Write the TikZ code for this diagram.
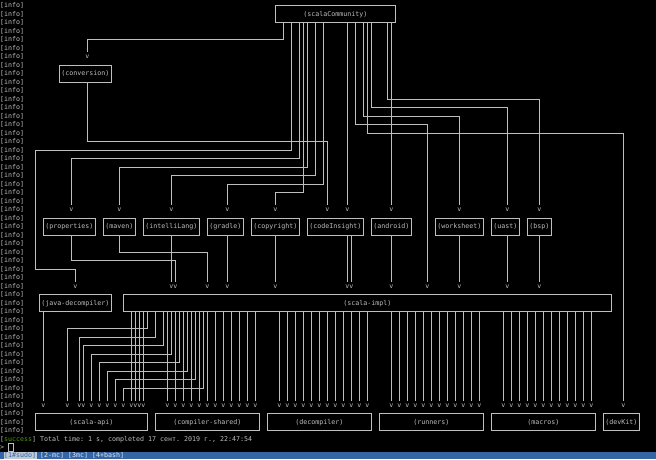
\documentclass[tikz,border=0pt]{standalone}
\usepackage{fontspec}
\setmonofont{DejaVu Sans Mono}
\definecolor{fg}{RGB}{190,190,190}
\definecolor{bar}{RGB}{52,101,164}
\definecolor{tab}{RGB}{190,200,215}
\definecolor{ok}{RGB}{78,154,6}
\tikzset{
  term/.style={font=\ttfamily\fontsize{6.64}{8.5}\selectfont\frenchspacing, text=fg, inner sep=0pt},
  box/.style={term, draw=fg, line width=0.9pt, minimum height=17pt},
  arr/.style={term, minimum height=8.5pt},
  wire/.style={draw=fg, line width=0.9pt},
}
\begin{document}
\begin{tikzpicture}[x=1pt,y=-1pt]
  \fill[black] (0,0) rectangle (656,459);
  \useasboundingbox (0,0) rectangle (656,459);
  % log column
  \foreach \k in {0,...,50}
    \node[term, anchor=west] at (0,5.7+8.5*\k) {[info]};

  % modules
  \node[box, minimum width=120pt] (sc)   at (335.3,14.2)  {(scalaCommunity)};
  \node[box, minimum width=52pt]  (conv) at (85.3,73.7)   {(conversion)};

  \node[box, minimum width=52pt]  (prop) at (69.3,226.7)  {(properties)};
  \node[box, minimum width=32pt]  (mvn)  at (119.3,226.7) {(maven)};
  \node[box, minimum width=56pt]  (intl) at (171.3,226.7) {(intelliLang)};
  \node[box, minimum width=36pt]  (grd)  at (225.3,226.7) {(gradle)};
  \node[box, minimum width=48pt]  (copy) at (275.3,226.7) {(copyright)};
  \node[box, minimum width=56pt]  (ci)   at (335.3,226.7) {(codeInsight)};
  \node[box, minimum width=40pt]  (andr) at (391.3,226.7) {(android)};
  \node[box, minimum width=48pt]  (ws)   at (459.3,226.7) {(worksheet)};
  \node[box, minimum width=28pt]  (uast) at (505.3,226.7) {(uast)};
  \node[box, minimum width=24pt]  (bsp)  at (539.3,226.7) {(bsp)};

  \node[box, minimum width=72pt]  (jd)   at (75.3,303.2)  {(java-decompiler)};
  \node[box, minimum width=488pt] (impl) at (367.3,303.2) {(scala-impl)};

  \node[box, minimum width=112pt] (api)  at (91.3,422.2)  {(scala-api)};
  \node[box, minimum width=104pt] (cs)   at (207.3,422.2) {(compiler-shared)};
  \node[box, minimum width=104pt] (dec)  at (319.3,422.2) {(decompiler)};
  \node[box, minimum width=104pt] (run)  at (431.3,422.2) {(runners)};
  \node[box, minimum width=104pt] (mac)  at (543.3,422.2) {(macros)};
  \node[box, minimum width=36pt]  (dk)   at (621.3,422.2) {(devKit)};

  % arrow marks
  \node[arr] (vconv) at (87.3,56.7) {v};
  \node[arr] (vprop) at (71.3,209.7) {v};
  \node[arr] (vmvn)  at (119.3,209.7) {v};
  \node[arr] (vintl) at (171.3,209.7) {v};
  \node[arr] (vgrd)  at (227.3,209.7) {v};
  \node[arr] (vcopy) at (275.3,209.7) {v};
  \node[arr] (vci1)  at (327.3,209.7) {v};
  \node[arr] (vci2)  at (347.3,209.7) {v};
  \node[arr] (vandr) at (391.3,209.7) {v};
  \node[arr] (vws)   at (459.3,209.7) {v};
  \node[arr] (vuast) at (507.3,209.7) {v};
  \node[arr] (vbsp)  at (539.3,209.7) {v};
  \node[arr] (vjd)   at (75.3,286.2) {v};
  \foreach \x [count=\i] in {171.3,175.3,207.3,227.3,275.3,347.3,351.3,391.3,427.3,459.3,507.3,539.3}
    \node[arr] (i\i) at (\x,286.2) {v};
  \node[arr] (a0)  at (43.3,405.2) {v};
  \foreach \x [count=\i] in {67.3,79.3,83.3,91.3,99.3,107.3,115.3,123.3,131.3,135.3,139.3,143.3}
    \node[arr] (a\i) at (\x,405.2) {v};
  \node[arr] (vdk) at (623.3,405.2) {v};

  % scalaCommunity
  \draw[wire] (283.3,0 |- sc.south) -- (283.3,39.7) -| (vconv.north);
  \draw[wire] (291.3,0 |- sc.south) -- (291.3,150.2) -| (35.3,269.2) -| (vjd.north);
  \draw[wire] (299.3,0 |- sc.south) -- (299.3,158.7) -| (vprop.north);
  \draw[wire] (303.3,0 |- sc.south) -- (303.3,192.7) -| (vcopy.north);
  \draw[wire] (307.3,0 |- sc.south) -- (307.3,167.2) -| (vmvn.north);
  \draw[wire] (315.3,0 |- sc.south) -- (315.3,175.7) -| (vintl.north);
  \draw[wire] (323.3,0 |- sc.south) -- (323.3,184.2) -| (vgrd.north);
  \draw[wire] (vci2 |- sc.south) -- (vci2.north);
  \draw[wire] (355.3,0 |- sc.south) -- (355.3,124.7) -| (i9.north);
  \draw[wire] (363.3,0 |- sc.south) -- (363.3,116.2) -| (vws.north);
  \draw[wire] (367.3,0 |- sc.south) -- (367.3,133.2) -| (vdk.north);
  \draw[wire] (371.3,0 |- sc.south) -- (371.3,107.7) -| (vuast.north);
  \draw[wire] (387.3,0 |- sc.south) -- (387.3,99.2) -| (vbsp.north);
  \draw[wire] (vandr |- sc.south) -- (vandr.north);
  % conversion
  \draw[wire] (vconv |- conv.south) -- (87.3,141.7) -| (vci1.north);

  % middle row
  \draw[wire] (vprop |- prop.south) -- (71.3,260.7) -| (i2.north);
  \draw[wire] (vmvn |- mvn.south) -- (119.3,252.2) -| (i3.north);
  \draw[wire] (i1 |- intl.south) -- (i1.north);
  \draw[wire] (i4 |- grd.south) -- (i4.north);
  \draw[wire] (i5 |- copy.south) -- (i5.north);
  \draw[wire] (i6 |- ci.south) -- (i6.north);
  \draw[wire] (i7 |- ci.south) -- (i7.north);
  \draw[wire] (i8 |- andr.south) -- (i8.north);
  \draw[wire] (i10 |- ws.south) -- (i10.north);
  \draw[wire] (i11 |- uast.south) -- (i11.north);
  \draw[wire] (i12 |- bsp.south) -- (i12.north);

  % java-decompiler and scala-impl
  \draw[wire] (a0 |- jd.south) -- (a0.north);
  \foreach \s/\y [count=\i] in {147.3/328.7,155.3/337.2,163.3/345.7,171.3/354.2,179.3/362.7,187.3/371.2,195.3/379.7,203.3/388.2}
    \draw[wire] (\s,0 |- impl.south) -- (\s,\y) -| (a\i.north);
  \foreach \i in {9,...,12}
    \draw[wire] (a\i |- impl.south) -- (a\i.north);
  \foreach \g in {0,...,3}
    \foreach \j in {0,...,11} {
      \node[arr] (b\g-\j) at (167.3+112*\g+8*\j,405.2) {v};
      \draw[wire] (b\g-\j |- impl.south) -- (b\g-\j.north);
    }

  % status lines
  \node[term, anchor=west] (done) at (0,439.2)
    {[\textcolor{ok}{success}] Total time: 1 s, completed 17 сент. 2019 г., 22:47:54};
  \node[term, anchor=west] (prompt) at (0,447.7) {>};
  \draw[fg, line width=0.6pt] (8.5,443.7) rectangle (12.8,451);
  \fill[bar] (0,451.7) rectangle (656,459);
  \fill[tab] (4,452) rectangle (36.5,459);
  \node[term, anchor=west, text=bar] (cur) at (4,455.6) {[1\#sudo]};
  \node[term, anchor=west, text=white!85!bar] (tabs) at (40,455.6) {[2-mc] [3mc] [4+bash]};
\end{tikzpicture}
\end{document}
